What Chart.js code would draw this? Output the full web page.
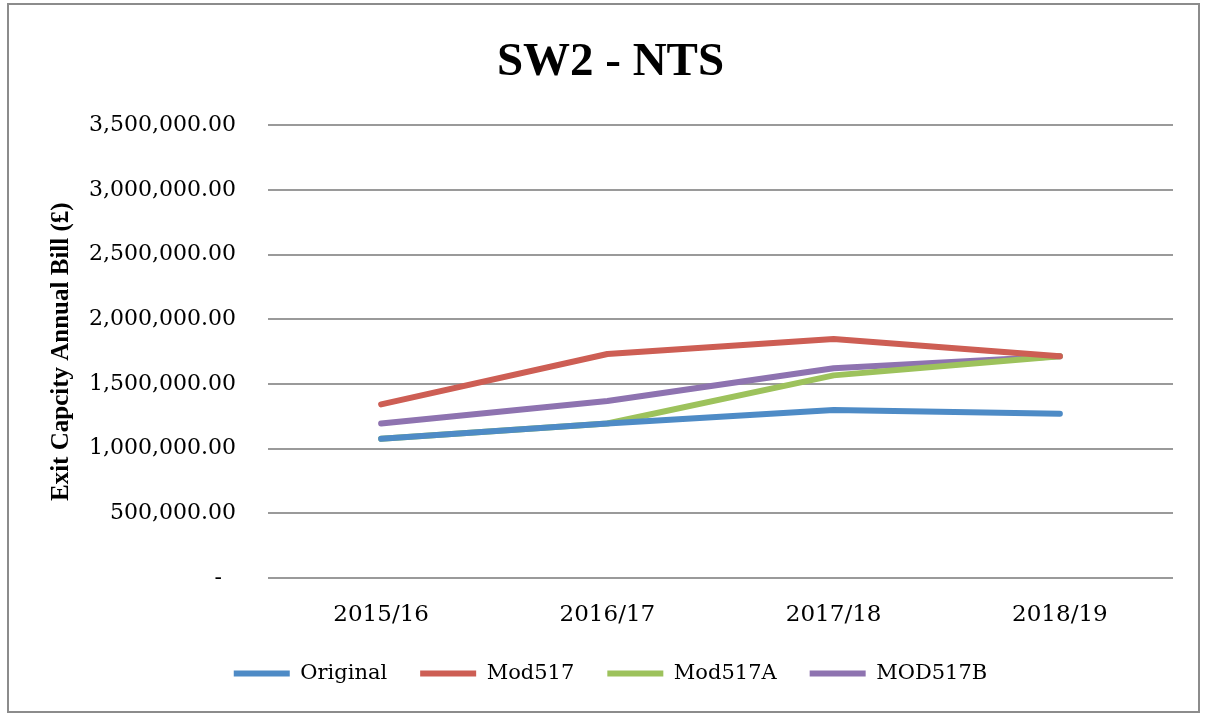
<!DOCTYPE html>
<html>
<head>
<meta charset="utf-8">
<script src="https://cdn.jsdelivr.net/npm/chart.js@4/dist/chart.umd.min.js"></script>
<style>
  html, body { margin: 0; padding: 0; background: #fff; }
  #box {
    position: absolute; left: 7px; top: 3px;
    width: 1189px; height: 706px;
    border: 2px solid #8c8c8c;
  }
</style>
</head>
<body>
<div id="box"><canvas id="chart" width="1189" height="706"></canvas></div>
<script>
const years = ["2015/16", "2016/17", "2017/18", "2018/19"];
const original = [1076000, 1195000, 1299000, 1270000];
const mod517 = [1343000, 1732000, 1848000, 1714000];
const mod517A = [1076000, 1195000, 1567000, 1714000];
const mod517B = [1195000, 1369000, 1622000, 1714000];
const seriesNames = ["Original", "Mod517", "Mod517A", "MOD517B"];
const colors = ["#4e8bc6", "#cd5e54", "#9dc25c", "#8e73b0"];

const serif = "'DejaVu Serif', serif";

function mkSet(i, vals) {
  return {
    label: seriesNames[i],
    data: vals,
    borderColor: colors[i],
    backgroundColor: colors[i],
    borderWidth: 6,
    borderCapStyle: 'round',
    borderJoinStyle: 'round',
    pointRadius: 0,
    pointStyle: 'line',
    tension: 0
  };
}

const config = {
  type: 'line',
  data: {
    labels: years,
    datasets: [mkSet(0, original), mkSet(1, mod517), mkSet(2, mod517A), mkSet(3, mod517B)]
  },
  options: {
    responsive: false,
    animation: false,
    layout: { padding: { left: 39, right: 25, top: 0, bottom: 17 } },
    plugins: {
      title: {
        display: true,
        text: 'SW2 - NTS',
        color: '#000',
        font: { family: "'Liberation Serif', serif", size: 47, weight: 'bold' },
        padding: { top: 30, bottom: 34 }
      },
      legend: {
        position: 'bottom',
        labels: {
          usePointStyle: true,
          pointStyleWidth: 56,
          boxHeight: 6,
          color: '#000',
          font: { family: serif, size: 21 },
          padding: 33
        }
      },
      tooltip: { enabled: false }
    },
    scales: {
      x: {
        offset: true,
        afterFit: function (s) { s.height = 52; },
        grid: { display: false, drawTicks: false },
        border: { display: false },
        ticks: { color: '#000', font: { family: serif, size: 23 }, padding: 23 }
      },
      y: {
        min: 0,
        max: 3500000,
        afterFit: function (s) { s.width = 220; },
        grid: { color: '#9a9a9a', lineWidth: 2, drawTicks: false },
        border: { display: false },
        ticks: {
          stepSize: 500000,
          color: '#000',
          padding: 32,
          font: { family: serif, size: 22 },
          callback: function (v) {
            if (v === 0) return '-  ';
            return v.toLocaleString('en-US', { minimumFractionDigits: 2, maximumFractionDigits: 2 });
          }
        },
        title: {
          display: true,
          text: 'Exit Capcity Annual Bill (£)',
          color: '#000',
          font: { family: "'Liberation Serif', serif", size: 25, weight: 'bold' },
          padding: { top: -1, bottom: 0 }
        }
      }
    }
  }
};

const myChart = new Chart(document.getElementById('chart'), config);
</script>
</body>
</html>
